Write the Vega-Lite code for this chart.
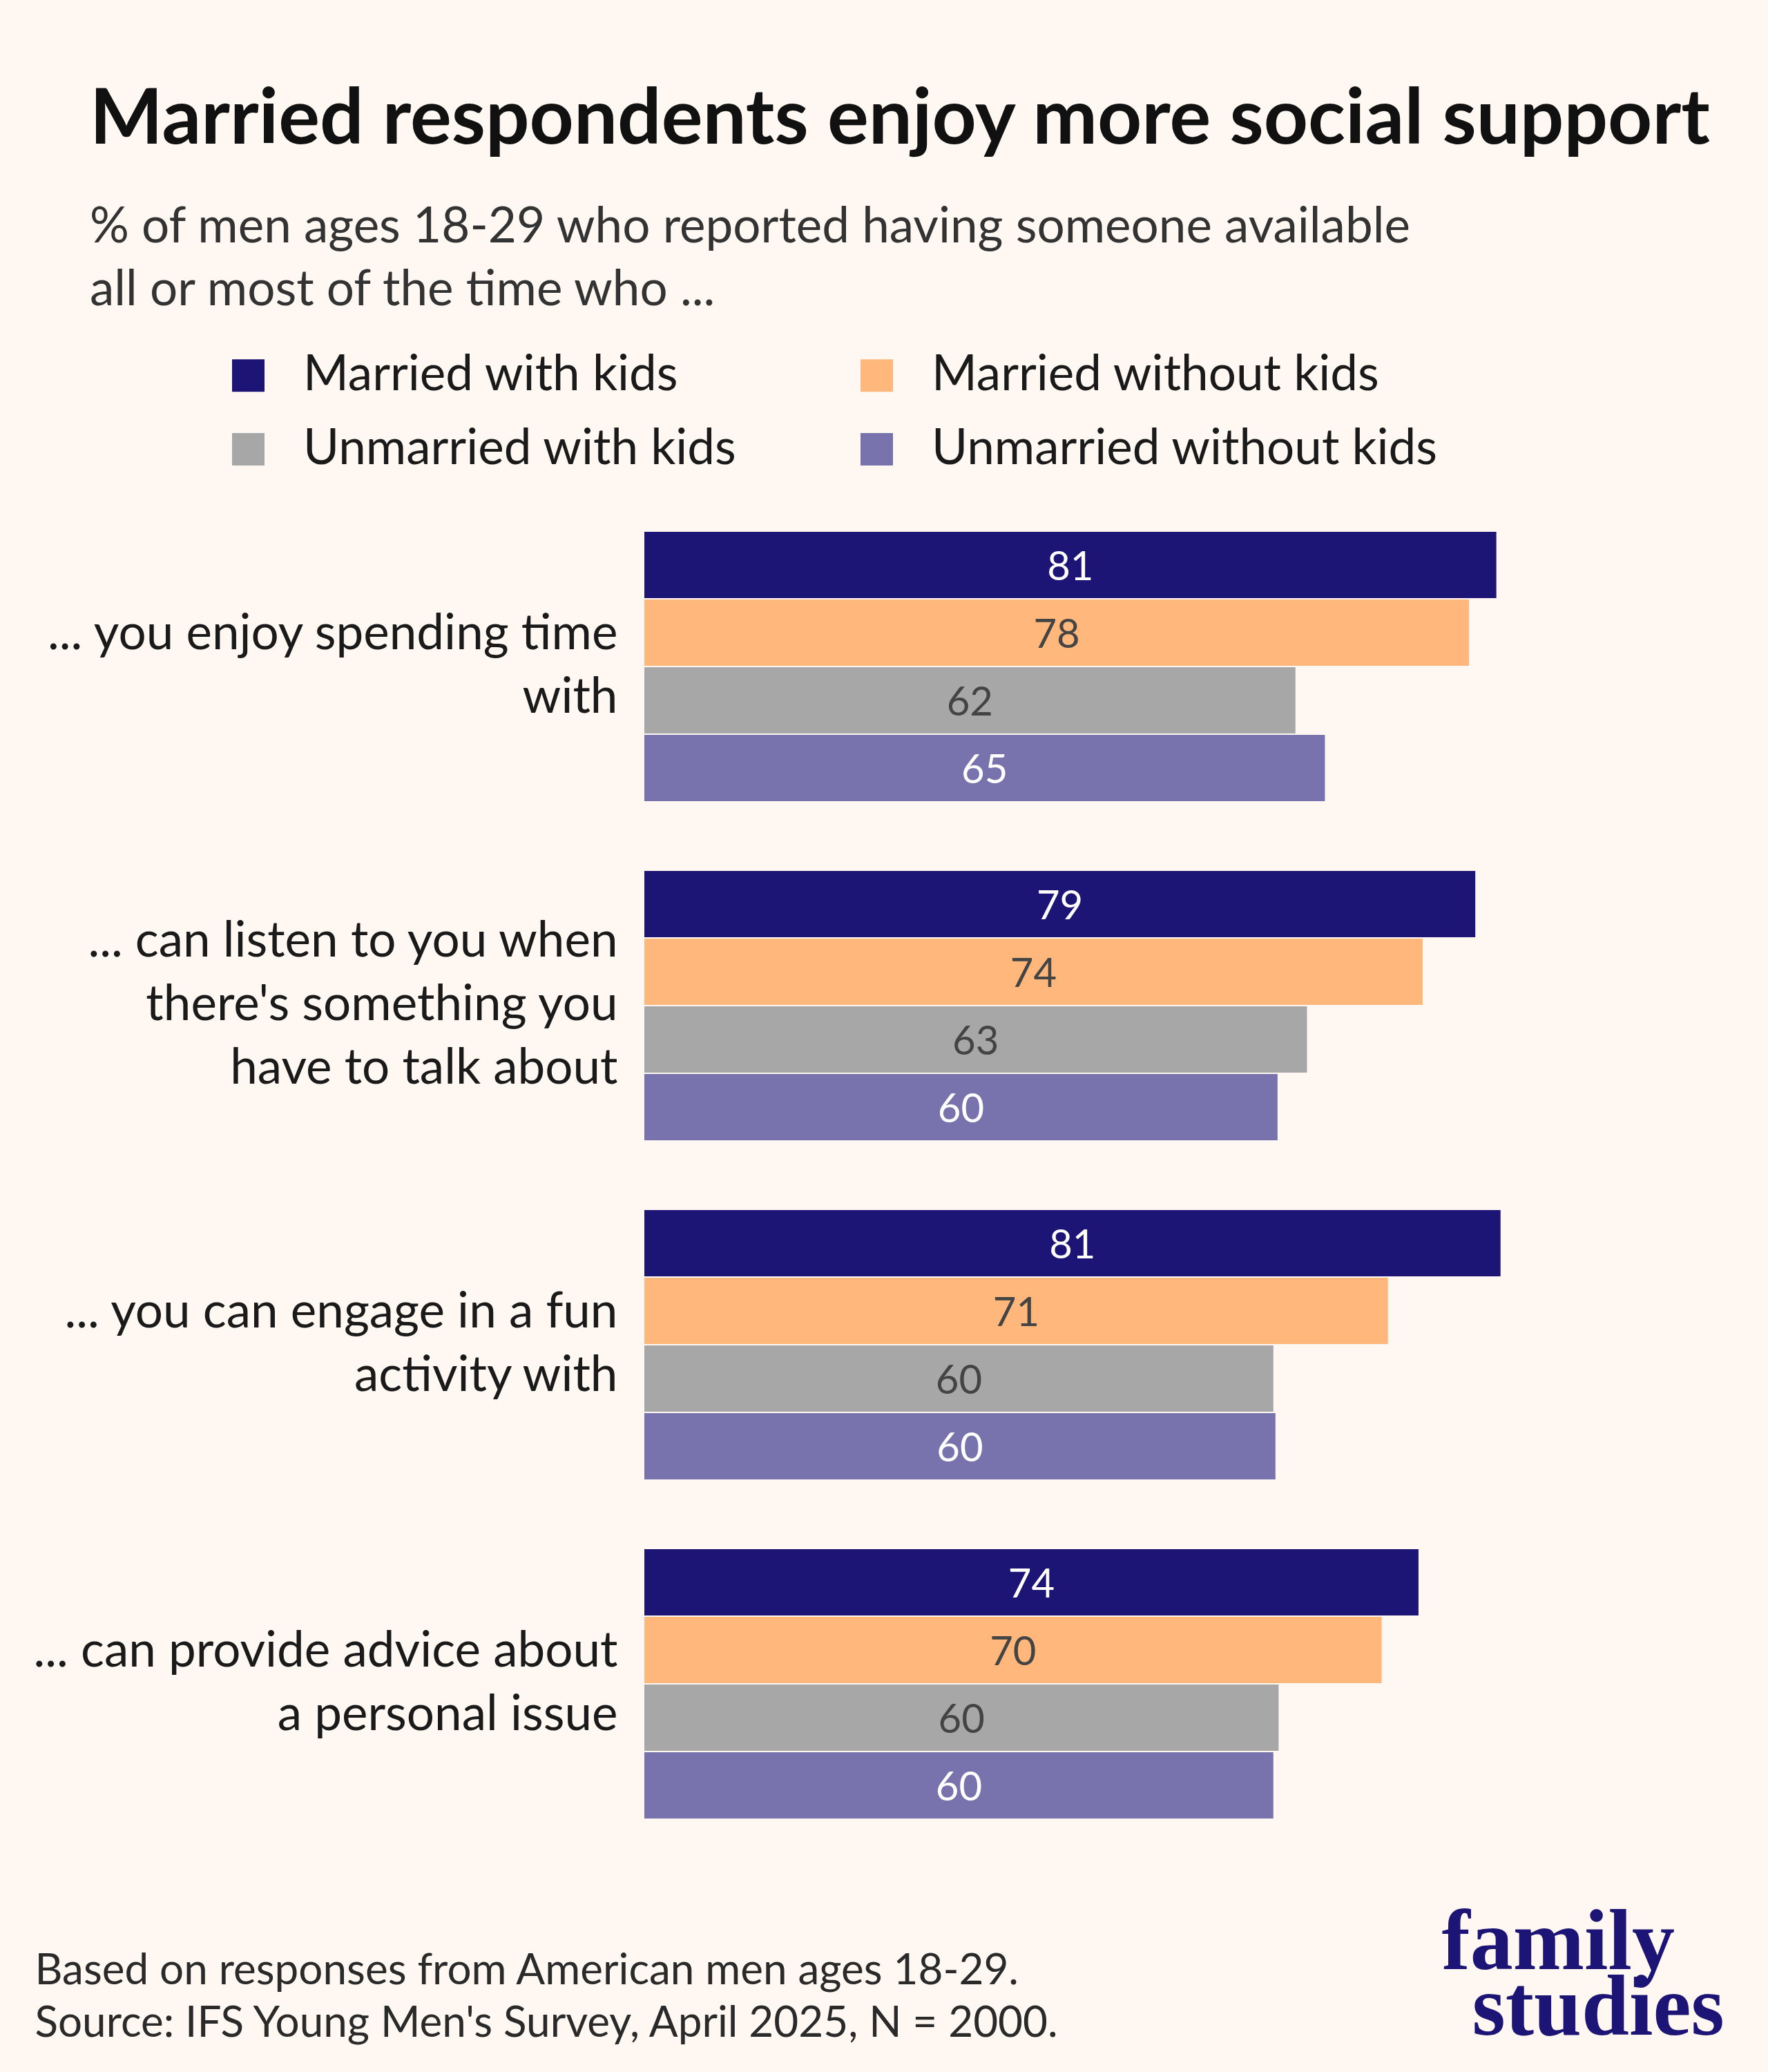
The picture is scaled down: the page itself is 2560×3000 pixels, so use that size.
{
  "$schema": "https://vega.github.io/schema/vega-lite/v6.json",
  "width": 1523,
  "height": 1863,
  "autosize": {"type": "none"},
  "padding": {"left": 933, "top": 770, "right": 104, "bottom": 367},
  "background": "#fff7f1",
  "config": {"view": {"stroke": null}, "font": "Lato"},
  "title": {
    "text": "Married respondents enjoy more social support",
    "subtitle": ["% of men ages 18-29 who reported having someone available", "all or most of the time who ..."],
    "anchor": "start",
    "frame": "group",
    "dx": -803,
    "offset": 50,
    "font": "Lato",
    "fontSize": 112,
    "fontWeight": "bold",
    "color": "#111111",
    "subtitleFont": "Lato",
    "subtitleFontSize": 71,
    "subtitleColor": "#333333",
    "subtitleLineHeight": 91,
    "subtitlePadding": 63
  },
  "data": {
    "values": [
      {"question": "... you enjoy spending time|with", "group": "Married with kids", "value": 81.0},
      {"question": "... you enjoy spending time|with", "group": "Married without kids", "value": 78.4},
      {"question": "... you enjoy spending time|with", "group": "Unmarried with kids", "value": 61.9},
      {"question": "... you enjoy spending time|with", "group": "Unmarried without kids", "value": 64.7},
      {"question": "... can listen to you when|there's something you|have to talk about", "group": "Married with kids", "value": 79.0},
      {"question": "... can listen to you when|there's something you|have to talk about", "group": "Married without kids", "value": 74.0},
      {"question": "... can listen to you when|there's something you|have to talk about", "group": "Unmarried with kids", "value": 63.0},
      {"question": "... can listen to you when|there's something you|have to talk about", "group": "Unmarried without kids", "value": 60.2},
      {"question": "... you can engage in a fun|activity with", "group": "Married with kids", "value": 81.4},
      {"question": "... you can engage in a fun|activity with", "group": "Married without kids", "value": 70.7},
      {"question": "... you can engage in a fun|activity with", "group": "Unmarried with kids", "value": 59.8},
      {"question": "... you can engage in a fun|activity with", "group": "Unmarried without kids", "value": 60.0},
      {"question": "... can provide advice about|a personal issue", "group": "Married with kids", "value": 73.6},
      {"question": "... can provide advice about|a personal issue", "group": "Married without kids", "value": 70.1},
      {"question": "... can provide advice about|a personal issue", "group": "Unmarried with kids", "value": 60.3},
      {"question": "... can provide advice about|a personal issue", "group": "Unmarried without kids", "value": 59.8}
    ]
  },
  "encoding": {
    "yOffset": {
      "field": "group",
      "type": "nominal",
      "sort": ["Married with kids", "Married without kids", "Unmarried with kids", "Unmarried without kids"],
      "scale": {"paddingInner": 0.02, "paddingOuter": 0}
    }
  },
  "layer": [
    {
      "mark": {"type": "bar"},
      "encoding": {
        "x": {
          "field": "value",
          "type": "quantitative",
          "scale": {"domain": [0, 100]},
          "axis": {
            "title": ["Based on responses from American men ages 18-29.", "Source: IFS Young Men's Survey, April 2025, N = 2000."],
            "domain": false,
            "ticks": false,
            "labels": false,
            "grid": false,
            "titleFont": "Lato",
            "titleFontSize": 62,
            "titleFontWeight": "normal",
            "titleColor": "#2a2a2a",
            "titleAnchor": "start",
            "titleAlign": "left",
            "titleBaseline": "alphabetic",
            "titleX": -883,
            "titleY": 239,
            "titleLineHeight": 76
          }
        },
        "y": {
          "field": "question",
          "type": "nominal",
          "sort": null,
          "scale": {"paddingInner": 0.2057, "paddingOuter": 0},
          "axis": {
            "title": null,
            "domain": false,
            "ticks": false,
            "labelExpr": "split(datum.label, '|')",
            "labelFont": "Lato",
            "labelFontSize": 71,
            "labelColor": "#1a1a1a",
            "labelLineHeight": 92,
            "labelBaseline": "middle",
            "labelOffset": {"condition": {"test": "indexof(datum.value, 'listen') >= 0", "value": -92}, "value": -46},
            "labelPadding": 39,
            "labelLimit": 0
          }
        },
        "color": {
          "field": "group",
          "type": "nominal",
          "scale": {
            "domain": ["Married with kids", "Married without kids", "Unmarried with kids", "Unmarried without kids"],
            "range": ["#1c1576", "#ffb77c", "#a7a7a7", "#7873ad"]
          },
          "legend": {
            "orient": "none",
            "legendX": -609,
            "legendY": -262,
            "columns": 2,
            "direction": "horizontal",
            "title": null,
            "padding": 0,
            "symbolType": "square",
            "symbolSize": 2209,
            "symbolStrokeWidth": 0,
            "symbolOpacity": 1,
            "labelFont": "Lato",
            "labelFontSize": 71,
            "labelColor": "#1a1a1a",
            "labelOffset": 44,
            "labelLimit": 0,
            "columnPadding": 166,
            "rowPadding": 35
          }
        }
      }
    },
    {
      "mark": {"type": "text", "font": "Lato", "fontSize": 58, "align": "center", "baseline": "middle", "dy": 5},
      "encoding": {
        "x": {
          "field": "value",
          "type": "quantitative",
          "scale": {"domain": [0, 200]},
          "axis": {
            "orient": "top",
            "title": "studies",
            "labels": false,
            "domain": false,
            "ticks": false,
            "grid": false,
            "titleFont": "Liberation Serif",
            "titleFontWeight": "bold",
            "titleFontSize": 124,
            "titleColor": "#1c1576",
            "titleAnchor": "start",
            "titleAlign": "left",
            "titleBaseline": "alphabetic",
            "titleX": 1198,
            "titleY": 2175
          }
        },
        "y": {
          "field": "question",
          "type": "nominal",
          "sort": null,
          "scale": {"paddingInner": 0.2057, "paddingOuter": 0},
          "axis": {
            "orient": "right",
            "title": "family",
            "labels": false,
            "domain": false,
            "ticks": false,
            "grid": false,
            "titleFont": "Liberation Serif",
            "titleFontWeight": "bold",
            "titleFontSize": 124,
            "titleColor": "#1c1576",
            "titleAngle": 0,
            "titleAlign": "left",
            "titleBaseline": "alphabetic",
            "titleX": -369,
            "titleY": 2080
          }
        },
        "text": {"field": "value", "type": "quantitative", "format": ".0f"},
        "color": {
          "condition": {"test": "datum.group == 'Married without kids' || datum.group == 'Unmarried with kids'", "value": "#444444"},
          "value": "#ffffff"
        }
      }
    }
  ],
  "resolve": {"scale": {"x": "independent"}, "axis": {"y": "independent"}}
}
